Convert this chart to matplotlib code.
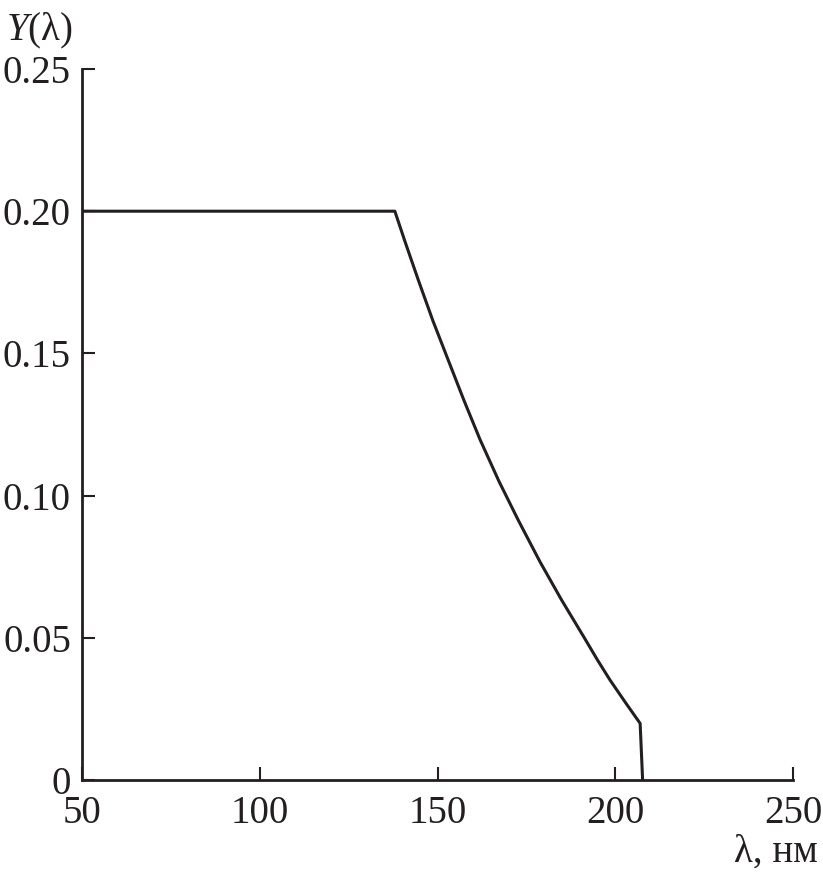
import matplotlib
matplotlib.use("Agg")
import matplotlib.pyplot as plt

# Data
wavelength = [50, 138.0, 141.0, 144.6, 148.7, 153.0, 157.5, 162.0, 167.3, 172.7,
              178.8, 184.9, 191.3, 195.0, 198.5, 203.0, 207.0, 207.7]
yield_vals = [0.20, 0.20, 0.1888, 0.1758, 0.1615, 0.1477, 0.1333, 0.1196, 0.1050, 0.0914,
              0.0768, 0.0633, 0.0500, 0.0422, 0.0352, 0.0270, 0.0199, 0.0]

x_ticks = [50, 100, 150, 200, 250]
x_tick_labels = ["50", "100", "150", "200", "250"]
y_ticks = [0, 0.05, 0.10, 0.15, 0.20, 0.25]
y_tick_labels = ["0", "0.05", "0.10", "0.15", "0.20", "0.25"]

plt.rcParams['font.family'] = ['Liberation Serif', 'DejaVu Serif']
plt.rcParams['mathtext.fontset'] = 'custom'
plt.rcParams['mathtext.rm'] = 'Liberation Serif'
plt.rcParams['mathtext.it'] = 'Liberation Serif:italic'

fig = plt.figure(figsize=(8.23, 8.77), dpi=100)
ax = fig.add_axes([82/823, 1-780/877, (793-82)/823, (780-69)/877])

ax.plot(wavelength, yield_vals, color='#231f20', lw=2.2, solid_joinstyle='round')

ax.set_xlim(50, 250)
ax.set_ylim(0, 0.25)
ax.set_xticks(x_ticks)
ax.set_xticklabels(x_tick_labels)
ax.set_yticks(y_ticks)
ax.set_yticklabels(y_tick_labels)

for s in ['top', 'right']:
    ax.spines[s].set_visible(False)
for s in ['left', 'bottom']:
    ax.spines[s].set_linewidth(2.0)
    ax.spines[s].set_color('#231f20')

ax.tick_params(direction='in', length=9.5, width=1.5, colors='#231f20',
               labelsize=28, labelcolor='#231f20')
ax.tick_params(axis='x', pad=11)
ax.tick_params(axis='y', pad=8)

fig.text(6/823, 1-40/877, r'$\mathit{Y}$(λ)', fontsize=28, color='#231f20',
         ha='left', va='baseline')
fig.text(818/823, 1-862/877, 'λ, нм', fontsize=28, color='#231f20',
         ha='right', va='baseline')

fig.savefig('out.png', dpi=100)
